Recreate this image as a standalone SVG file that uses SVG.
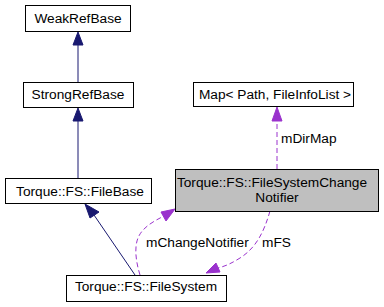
<svg xmlns="http://www.w3.org/2000/svg" width="384" height="307" viewBox="0 0 384 307">
  <style>
    .box { fill: #ffffff; stroke: #000000; stroke-width: 1; }
    .cur { fill: #bfbfbf; stroke: #000000; stroke-width: 1; }
    text { font-family: "Liberation Sans", Arial, sans-serif; font-size: 13.7px; fill: #000000; }
    .c { text-anchor: middle; }
    .inh { fill: none; stroke: #191970; stroke-width: 1; }
    .inhHead { fill: #191970; stroke: #191970; }
    .use { fill: none; stroke: #9a32cd; stroke-width: 1; stroke-dasharray: 5,3; }
    .useHead { fill: #9a32cd; stroke: #9a32cd; }
  </style>

  <g id="edges">
    <!-- StrongRefBase -> WeakRefBase -->
    <line class="inh" x1="78" y1="82" x2="78" y2="45"/>
    <polygon class="inhHead" points="78,32 73,45 83,45"/>
    <!-- FileBase -> StrongRefBase -->
    <line class="inh" x1="78" y1="178" x2="78" y2="121"/>
    <polygon class="inhHead" points="78,108 73,121 83,121"/>
    <!-- FileSystem -> FileBase -->
    <line class="inh" x1="135" y1="275" x2="94" y2="215"/>
    <polygon class="inhHead" points="85,204 90,218 99,212"/>
    <!-- Notifier -> Map : mDirMap -->
    <line class="use" x1="277" y1="169" x2="277" y2="121"/>
    <polygon class="useHead" points="277,107 272,121 282,121"/>
    <!-- FileSystem -> Notifier : mChangeNotifier -->
    <path class="use" d="M140,275 C136,262 134,248 138,238 C142,228 152,222 164,216"/>
    <polygon class="useHead" points="175,209 161,212 166,221"/>
    <!-- Notifier -> FileSystem : mFS -->
    <path class="use" d="M270,211 C264,232 256,248 240,258 C232,263 226,266 218,268"/>
    <polygon class="useHead" points="206,273 216,263 220,272"/>
  </g>

  <g id="WeakRefBase">
    <rect class="box" x="25.5" y="5.5" width="105" height="26"/>
    <text class="c" x="78" y="23">WeakRefBase</text>
  </g>
  <g id="StrongRefBase">
    <rect class="box" x="23.5" y="82.5" width="110" height="25"/>
    <text class="c" x="78" y="99">StrongRefBase</text>
  </g>
  <g id="FileBase">
    <rect class="box" x="5.5" y="178.5" width="146" height="25"/>
    <text class="c" x="80" y="196">Torque::FS::FileBase</text>
  </g>
  <g id="FileSystem">
    <rect class="box" x="66.5" y="275.5" width="160" height="26"/>
    <text class="c" x="146" y="291">Torque::FS::FileSystem</text>
  </g>
  <g id="Map">
    <rect class="box" x="193.5" y="82.5" width="160" height="24"/>
    <text class="c" x="275" y="99">Map&lt; Path, FileInfoList &gt;</text>
  </g>
  <g id="FileSystemChangeNotifier">
    <rect class="cur" x="175.5" y="169.5" width="203" height="42"/>
    <text class="c" x="272" y="187">Torque::FS::FileSystemChange</text>
    <text class="c" x="277" y="202">Notifier</text>
  </g>

  <g id="labels">
    <text x="281" y="143">mDirMap</text>
    <text x="146" y="247">mChangeNotifier</text>
    <text x="262" y="247">mFS</text>
  </g>
</svg>
